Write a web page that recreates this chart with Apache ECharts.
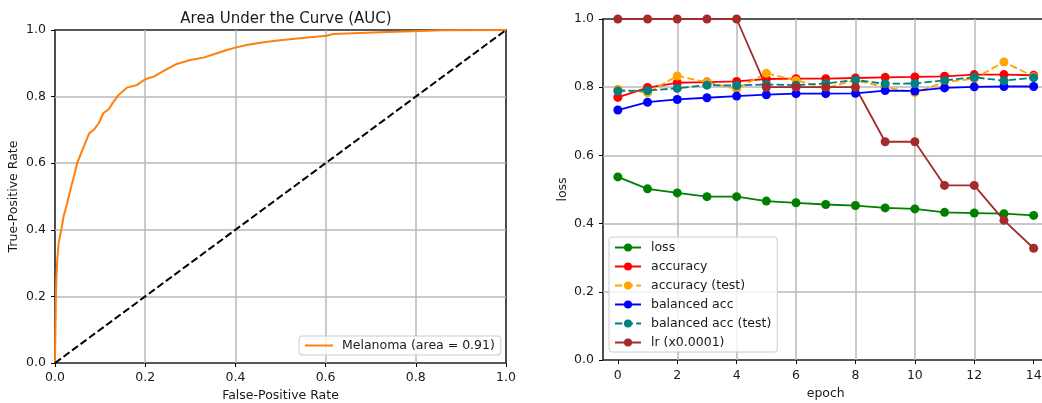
<!DOCTYPE html>
<html>
<head>
<meta charset="utf-8">
<script src="https://cdn.jsdelivr.net/npm/echarts@6/dist/echarts.min.js"></script>
<style>
html,body{margin:0;padding:0;background:#fff;}
#main{width:1042px;height:403px;}
</style>
</head>
<body>
<div id="main"></div>
<script>
// ---------- data ----------
const rocFpr = [0, 0.001, 0.002, 0.003, 0.005, 0.008, 0.014, 0.019, 0.027, 0.036, 0.042, 0.049, 0.058, 0.067, 0.076, 0.086, 0.097, 0.107, 0.119, 0.13, 0.141, 0.16, 0.182, 0.2, 0.219, 0.241, 0.27, 0.30, 0.329, 0.359, 0.381, 0.40, 0.425, 0.462, 0.499, 0.543, 0.602, 0.617, 0.72, 0.809, 0.86, 1.0];
const rocTpr = [0, 0.1, 0.2, 0.25, 0.31, 0.36, 0.40, 0.44, 0.48, 0.53, 0.56, 0.60, 0.63, 0.66, 0.69, 0.70, 0.72, 0.75, 0.762, 0.785, 0.805, 0.827, 0.835, 0.852, 0.86, 0.877, 0.898, 0.91, 0.917, 0.93, 0.94, 0.947, 0.955, 0.963, 0.969, 0.975, 0.983, 0.988, 0.993, 0.997, 0.999, 1.0];
const chanceX = [0, 1];
const chanceY = [0, 1];
const rocName = 'Melanoma (area = 0.91)';

const epochs = [0,1,2,3,4,5,6,7,8,9,10,11,12,13,14];
const epochTicks = [0,2,4,6,8,10,12,14];
const loss     = [0.537, 0.502, 0.490, 0.479, 0.479, 0.466, 0.461, 0.456, 0.453, 0.446, 0.443, 0.433, 0.431, 0.429, 0.424];
const accuracy = [0.770, 0.799, 0.813, 0.815, 0.817, 0.824, 0.825, 0.825, 0.827, 0.829, 0.830, 0.832, 0.837, 0.837, 0.835];
const accTest  = [0.794, 0.784, 0.833, 0.814, 0.795, 0.841, 0.820, 0.798, 0.820, 0.800, 0.784, 0.815, 0.825, 0.874, 0.831];
const balAcc   = [0.733, 0.756, 0.764, 0.769, 0.774, 0.778, 0.781, 0.781, 0.782, 0.790, 0.789, 0.798, 0.801, 0.802, 0.802];
const balTest  = [0.789, 0.790, 0.797, 0.806, 0.805, 0.808, 0.806, 0.811, 0.821, 0.810, 0.811, 0.820, 0.829, 0.819, 0.828];
const lrScaled = [1, 1, 1, 1, 1, 0.8, 0.8, 0.8, 0.8, 0.64, 0.64, 0.512, 0.512, 0.4096, 0.32768];
const seriesNames = ['loss', 'accuracy', 'accuracy (test)', 'balanced acc', 'balanced acc (test)', 'lr (x0.0001)'];

// ---------- styling ----------
const FONT = 'DejaVu Sans';
const TXT = '#1a1a1a';
const GRIDC = '#b8b8b8';
const DASH = [7.4, 3.2];

function zip(xs, ys) { return xs.map((x, i) => [x, ys[i]]); }

const tickStyle = { show: true, inside: false, length: 4, lineStyle: { color: '#000', width: 1 } };
const splitStyle = { show: true, showMinLine: false, showMaxLine: false, lineStyle: { color: GRIDC, width: 1.5 } };
const labelBase = { color: TXT, fontFamily: FONT, fontSize: 12.5 };
const noLine = { show: false, onZero: false };

const chart = echarts.init(document.getElementById('main'), null, { renderer: 'canvas' });

function lineSeries(name, data, color, dashed) {
  return {
    name: name, type: 'line', xAxisIndex: 1, yAxisIndex: 1,
    data: zip(epochs, data),
    symbol: 'circle', symbolSize: 9, showSymbol: true,
    itemStyle: { color: color, borderWidth: 0 },
    lineStyle: { color: color, width: 1.8, type: dashed ? DASH : 'solid' },
    emphasis: { disabled: true },
    clip: false
  };
}

const option = {
  animation: false,
  backgroundColor: '#fff',
  title: {
    text: 'Area Under the Curve (AUC)',
    left: 281, top: 7, textAlign: 'center',
    textStyle: { fontFamily: FONT, fontSize: 15, fontWeight: 'normal', color: TXT }
  },
  grid: [
    { left: 55, top: 30, width: 451, height: 333, containLabel: false, outerBoundsMode: 'none', show: true, borderColor: '#222', borderWidth: 1.6, backgroundColor: 'transparent' },
    { left: 603, top: 19, width: 445.5, height: 341, containLabel: false, outerBoundsMode: 'none', show: true, borderColor: '#222', borderWidth: 1.6, backgroundColor: 'transparent' }
  ],
  legend: [
    {
      data: [rocName],
      left: 299, top: 336, orient: 'vertical',
      itemWidth: 28, itemHeight: 10,
      padding: [3, 6, 3, 5],
      itemStyle: { opacity: 0 },
      backgroundColor: 'rgba(255,255,255,0.8)', borderColor: '#ccc', borderWidth: 1, borderRadius: 3,
      textStyle: { fontFamily: FONT, fontSize: 12.5, color: TXT, padding: [0, 0, 0, 4] },
      selectedMode: false
    },
    {
      data: seriesNames,
      left: 609, top: 237, orient: 'vertical',
      itemWidth: 26, itemHeight: 10, itemGap: 6,
      padding: [4, 6, 3, 5],
      backgroundColor: 'rgba(255,255,255,0.8)', borderColor: '#ccc', borderWidth: 1, borderRadius: 3,
      textStyle: { fontFamily: FONT, fontSize: 12.5, color: TXT, padding: [0, 0, 0, 5] },
      selectedMode: false
    }
  ],
  xAxis: [
    {
      gridIndex: 0, type: 'value', min: 0, max: 1, interval: 0.2,
      name: 'False-Positive Rate', nameLocation: 'middle', nameGap: 23,
      nameTextStyle: { fontFamily: FONT, fontSize: 12.5, color: TXT },
      axisLine: noLine, axisTick: tickStyle, splitLine: splitStyle,
      axisLabel: Object.assign({ margin: 8, formatter: v => v.toFixed(1) }, labelBase)
    },
    {
      gridIndex: 1, type: 'value', min: -0.5, max: 14.5,
      name: 'epoch', nameLocation: 'middle', nameGap: 24,
      nameTextStyle: { fontFamily: FONT, fontSize: 12.5, color: TXT },
      axisLine: noLine,
      axisTick: Object.assign({ customValues: epochTicks }, tickStyle),
      splitLine: splitStyle,
      axisLabel: Object.assign({ margin: 9, customValues: epochTicks, formatter: v => String(v) }, labelBase)
    }
  ],
  yAxis: [
    {
      gridIndex: 0, type: 'value', min: 0, max: 1, interval: 0.2,
      name: 'True-Positive Rate', nameLocation: 'middle', nameGap: 35,
      nameTextStyle: { fontFamily: FONT, fontSize: 12.5, color: TXT },
      axisLine: noLine, axisTick: tickStyle, splitLine: splitStyle,
      axisLabel: Object.assign({ margin: 9, formatter: v => v.toFixed(1) }, labelBase)
    },
    {
      gridIndex: 1, type: 'value', min: 0, max: 1, interval: 0.2,
      name: 'loss', nameLocation: 'middle', nameGap: 34,
      nameTextStyle: { fontFamily: FONT, fontSize: 12.5, color: TXT },
      axisLine: noLine, axisTick: tickStyle, splitLine: splitStyle,
      axisLabel: Object.assign({ margin: 9, formatter: v => v.toFixed(1) }, labelBase)
    }
  ],
  series: [
    {
      name: rocName, type: 'line', xAxisIndex: 0, yAxisIndex: 0,
      data: zip(rocFpr, rocTpr), symbol: 'none', showSymbol: false,
      itemStyle: { color: '#ff7f0e' },
      lineStyle: { color: '#ff7f0e', width: 2 }, emphasis: { disabled: true }
    },
    {
      name: 'chance', type: 'line', xAxisIndex: 0, yAxisIndex: 0,
      data: zip(chanceX, chanceY), symbol: 'none', showSymbol: false,
      itemStyle: { color: '#000' },
      lineStyle: { color: '#000', width: 2, type: DASH }, emphasis: { disabled: true }, z: 3
    },
    lineSeries('loss', loss, '#008000', false),
    lineSeries('accuracy', accuracy, '#ff0000', false),
    lineSeries('accuracy (test)', accTest, '#ffa500', true),
    lineSeries('balanced acc', balAcc, '#0000ff', false),
    lineSeries('balanced acc (test)', balTest, '#008080', true),
    lineSeries('lr (x0.0001)', lrScaled, '#a52a2a', false)
  ]
};
chart.setOption(option);
</script>
</body>
</html>
